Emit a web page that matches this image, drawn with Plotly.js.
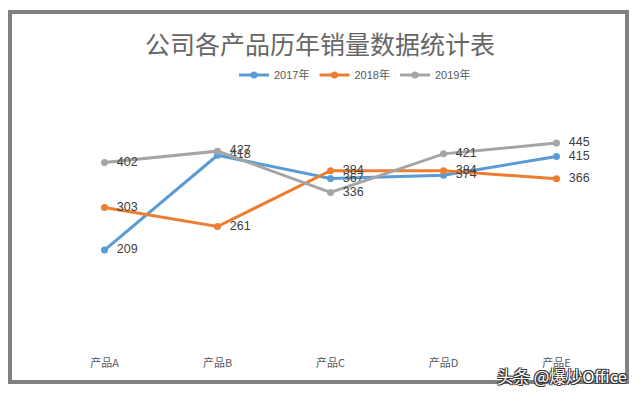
<!DOCTYPE html>
<html>
<head>
<meta charset="utf-8">
<script src="https://cdn.plot.ly/plotly-3.0.1.min.js"></script>
<style>
  html, body { margin: 0; padding: 0; background: #ffffff; }
  #chart { width: 640px; height: 397px; }
</style>
</head>
<body>
<div id="chart"></div>
<script>
const categories = ["产品A", "产品B", "产品C", "产品D", "产品E"];
const seriesNames = ["2017年", "2018年", "2019年"];
const values2017 = [209, 418, 367, 374, 415];
const values2018 = [303, 261, 384, 384, 366];
const values2019 = [402, 427, 336, 421, 445];
const chartTitle = "公司各产品历年销量数据统计表";
const watermark = "头条 @爆炒Office";

const colors = ["#5B9BD5", "#ED7D31", "#A5A5A5"];
const allValues = [values2017, values2018, values2019];

const W = 640, H = 397;
const M = { l: 48, r: 27, t: 118, b: 52 };
const pw = W - M.l - M.r, ph = H - M.t - M.b;
const px = x => (x - M.l) / pw;
const py = y => (H - M.b - y) / ph;

const fontFam = "Liberation Sans, Arial, Noto Sans CJK SC, sans-serif";

const traces = allValues.map((vals, i) => ({
  type: "scatter",
  mode: "lines+markers+text",
  name: seriesNames[i],
  x: categories,
  y: vals,
  texttemplate: "\u00a0\u00a0%{y}",
  textposition: "middle right",
  textfont: { family: fontFam, size: 12.5, color: "#404040" },
  line: { color: colors[i], width: 3 },
  marker: { color: colors[i], size: 7 },
  cliponaxis: false
}));

const layout = {
  width: W, height: H,
  margin: M,
  paper_bgcolor: "#ffffff",
  plot_bgcolor: "#ffffff",
  showlegend: true,
  title: {
    text: chartTitle,
    font: { family: "Noto Sans CJK SC, sans-serif", size: 25, color: "#666666" },
    xref: "container", x: 0.5, xanchor: "center",
    yref: "container", y: 1 - 45 / H, yanchor: "middle"
  },
  legend: {
    orientation: "h",
    x: px(355), xanchor: "center",
    y: py(75), yanchor: "middle",
    font: { family: fontFam, size: 11, color: "#595959" },
    itemwidth: 30,
    tracegroupgap: 0,
    bgcolor: "rgba(0,0,0,0)"
  },
  xaxis: {
    type: "category",
    range: [-0.5, 4.5],
    showgrid: false, zeroline: false, showline: false,
    ticks: "",
    ticklabelstandoff: 10,
    tickfont: { family: "Noto Sans CJK SC, sans-serif", size: 11, color: "#595959" },
    fixedrange: true
  },
  yaxis: {
    range: [0, 500],
    visible: false,
    showgrid: false, zeroline: false,
    fixedrange: true
  },
  shapes: [{
    type: "rect", xref: "paper", yref: "paper",
    x0: px(10), x1: px(627), y0: py(382), y1: py(12),
    line: { color: "#808080", width: 4 },
    fillcolor: "rgba(0,0,0,0)",
    layer: "below"
  }],
  annotations: [{
    text: watermark,
    xref: "paper", yref: "paper",
    x: px(629), y: py(376),
    xanchor: "right", yanchor: "middle",
    showarrow: false,
    font: {
      family: "Noto Sans CJK SC, sans-serif", size: 16.5, color: "#ffffff",
      shadow: "1px 1px 0 #333, -1px -1px 0 #333, 1px -1px 0 #333, -1px 1px 0 #333"
    }
  }]
};

Plotly.newPlot("chart", traces, layout, { staticPlot: true, displayModeBar: false });
</script>
</body>
</html>
